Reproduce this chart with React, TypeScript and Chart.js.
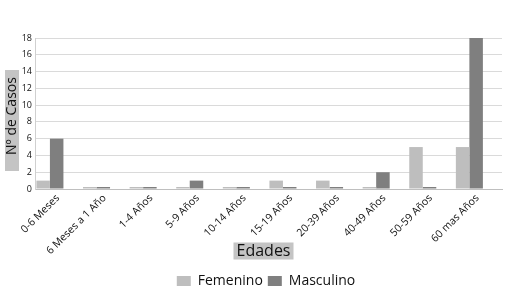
import React, { useEffect, useRef } from "react";
import { Chart, registerables } from "chart.js";

Chart.register(...registerables);

const categories = [
  "0-6 Meses",
  "6 Meses a 1 Año",
  "1-4 Años",
  "5-9 Años",
  "10-14 Años",
  "15-19 Años",
  "20-39 Años",
  "40-49 Años",
  "50-59 Años",
  "60 mas Años",
];
const femenino = [1, 0, 0, 0, 0, 1, 1, 0, 5, 5];
const masculino = [6, 0, 0, 1, 0, 0, 0, 2, 0, 18];
const yTicks = [0, 2, 4, 6, 8, 10, 12, 14, 16, 18];

const FONT = '"Open Sans", "Noto Sans", sans-serif';

const shiftLegend = {
  id: "shiftLegend",
  afterLayout(chart: any) {
    const lg = chart.legend;
    if (lg) {
      lg.left += 15;
      lg.right += 15;
      lg.top -= 2;
      lg.bottom -= 2;
    }
  },
};

const boxTitles = {
  id: "boxTitles",
  afterDraw(chart: any) {
    const { ctx, chartArea } = chart;
    ctx.save();
    // X title
    ctx.font = `16px ${FONT}`;
    const xt = "Edades";
    const cx = (chartArea.left + chartArea.right) / 2 - 5;
    const cy = chartArea.bottom + 62;
    ctx.fillStyle = "#c4c4c4";
    ctx.fillRect(cx - 30, cy - 8.5, 60, 17);
    ctx.fillStyle = "#111";
    ctx.textAlign = "center";
    ctx.textBaseline = "middle";
    ctx.fillText(xt, cx, cy + 0.5);
    // Y title
    ctx.fillStyle = "#c4c4c4";
    ctx.fillRect(5, 70, 14, 101);
    ctx.translate(12.5, 116);
    ctx.rotate(-Math.PI / 2);
    ctx.font = `14px ${FONT}`;
    ctx.fillStyle = "#111";
    ctx.fillText("Nº de Casos", 0, 0);
    ctx.restore();
  },
};

export default function App() {
  const ref = useRef<HTMLCanvasElement>(null);
  useEffect(() => {
    if (!ref.current) return;
    const chart = new Chart(ref.current, {
      type: "bar",
      data: {
        datasets: [
          {
            label: "Femenino",
            data: femenino.map((v, i) => ({ x: i, y: v })),
            backgroundColor: "#bebebe",
            minBarLength: 2,
          },
          {
            label: "Masculino",
            data: masculino.map((v, i) => ({ x: i, y: v })),
            backgroundColor: "#7f7f7f",
            minBarLength: 2,
          },
        ],
      },
      options: {
        animation: false,
        responsive: false,
        datasets: {
          bar: { categoryPercentage: 0.58, barPercentage: 1 },
        },
        layout: { padding: { top: 38, right: 8, left: 0, bottom: 0 } },
        scales: {
          x: {
            type: "linear",
            offset: false,
            min: -0.32,
            max: 9.7,
            afterBuildTicks: (scale: any) => {
              scale.ticks = categories.map((_, i) => ({ value: i }));
            },
            afterFit: (scale: any) => {
              scale.height = 82;
            },
            grid: { display: false, drawTicks: false, offset: false },
            border: { display: true, color: "#bfbfbf" },
            ticks: {
              autoSkip: false,
              minRotation: 45,
              maxRotation: 45,
              padding: 3,
              labelOffset: 8,
              color: "#111",
              font: { family: FONT, size: 10.5 },
              callback: (v: any) => categories[v as number] ?? "",
            },
          },
          y: {
            min: 0,
            max: 18,
            afterBuildTicks: (scale: any) => {
              scale.ticks = yTicks.map((v) => ({ value: v }));
            },
            afterFit: (scale: any) => {
              scale.width = 35;
            },
            grid: { color: "#dadada", drawTicks: false },
            border: { display: true, color: "#d0d0d0" },
            ticks: {
              padding: 3,
              color: "#111",
              font: { family: FONT, size: 9 },
            },
          },
        },
        plugins: {
          legend: {
            position: "bottom",
            labels: {
              boxWidth: 14,
              boxHeight: 10,
              padding: 5,
              color: "#111",
              font: { family: FONT, size: 14 },
            },
          },
          tooltip: { enabled: false },
        },
      },
      plugins: [shiftLegend, boxTitles],
    });
    return () => chart.destroy();
  }, []);
  return (
    <div style={{ position: "fixed", left: 0, top: 0, width: 510, height: 300, background: "#fff" }}>
      <canvas ref={ref} width={510} height={300} style={{ display: "block" }} />
    </div>
  );
}
